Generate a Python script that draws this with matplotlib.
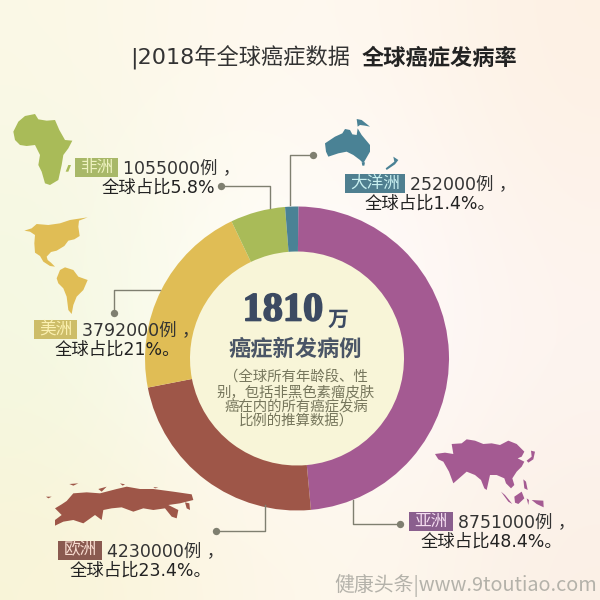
import matplotlib
matplotlib.use("Agg")
import matplotlib.pyplot as plt
import matplotlib.patheffects as pe
import numpy as np
from matplotlib.patches import Circle, Polygon, Rectangle

plt.rcParams['font.family'] = ['Noto Sans CJK SC', 'DejaVu Sans']
LABEL_FONT = ['DejaVu Sans', 'Noto Sans CJK SC']

regions = ["亚洲", "欧洲", "美洲", "非洲", "大洋洲"]
cases = [8751000, 4230000, 3792000, 1055000, 252000]
shares = ["48.4%。", "23.4%。", "21%。", "5.8%", "1.4%。"]
pie_colors = ["#a45a92", "#9e5648", "#e0bd55", "#a9bb58", "#4a8295"]
box_colors = ["#8a5f8e", "#8a5a50", "#cdbd68", "#a8b868", "#4f7f90"]
text_colors = ["#f4dcf0", "#f8dcd0", "#fbf0b0", "#eef2c0", "#c8f0f0"]

# 框的位置 x0, x1, y0, 第二行文字起點 x
boxes = [(409, 453, 512, 421), (58, 102, 541, 70), (34, 77, 320, 55), (75, 118, 158, 102), (345, 405, 174, 365)]
# 引線 (點 -> 圓環)
leaders = [
    [(400, 524), (353, 524), (353, 500)],
    [(216, 531), (265, 531), (265, 505)],
    [(114, 313), (114, 290), (160, 290)],
    [(221, 186), (270, 186), (270, 208)],
    [(313, 155), (290, 155), (290, 205)],
]

# 各洲地圖輪廓 (裝飾用, 放大 3 倍的座標, 第一項是裁切原點)
africa = ((0, 90), [
    [(40, 125), (55, 95), (75, 78), (105, 72), (115, 88), (140, 92), (165, 90), (178, 120), (195, 150), (217, 152),
     (205, 175), (190, 195), (185, 225), (175, 270), (150, 285), (135, 280), (125, 245), (115, 225), (120, 195),
     (105, 165), (80, 168), (60, 165), (45, 150)],
    [(205, 225), (213, 225), (205, 245), (197, 245)]])
america = ((15, 210), [
    [(28, 62), (50, 55), (65, 42), (100, 45), (135, 40), (165, 30), (218, 22), (192, 32), (190, 50), (194, 78),
     (178, 88), (160, 92), (148, 108), (125, 122), (108, 126), (95, 140), (98, 150), (108, 158), (120, 170), (105, 168),
     (85, 155), (75, 138), (60, 128), (58, 100), (60, 75), (45, 65)],
    [(125, 205), (135, 180), (150, 172), (175, 180), (190, 200), (218, 210), (205, 240), (185, 260), (175, 285),
     (170, 312), (160, 300), (155, 260), (145, 235), (130, 220)]])
oceania = ((315, 105), [
    [(30, 115), (60, 95), (82, 85), (90, 72), (105, 75), (112, 88), (125, 90), (128, 70), (140, 90), (165, 120),
     (165, 140), (145, 175), (135, 165), (115, 150), (95, 140), (70, 145), (40, 155), (33, 140)],
    [(140, 172), (150, 172), (148, 182), (142, 182)],
    [(125, 42), (140, 45), (165, 65), (150, 62), (135, 60), (128, 65)],
    [(235, 155), (250, 165), (240, 178), (215, 195), (212, 190), (238, 170)]])
asia = ((425, 430), [
    [(30, 72), (60, 68), (85, 72), (80, 42), (110, 40), (125, 28), (150, 32), (175, 42), (200, 40), (225, 45),
     (250, 32), (275, 42), (298, 65), (290, 80), (278, 85), (298, 95), (290, 110), (275, 125), (262, 145), (268, 165),
     (258, 175), (243, 160), (238, 145), (215, 135), (195, 135), (185, 180), (178, 175), (168, 150), (150, 135),
     (125, 125), (85, 160), (72, 125), (55, 95), (40, 88)],
    [(318, 62), (330, 65), (325, 88), (310, 98), (305, 92), (320, 80)],
    [(228, 185), (240, 195), (262, 222), (250, 215)],
    [(268, 200), (290, 185), (298, 205), (280, 222), (270, 218)],
    [(295, 148), (303, 155), (308, 180), (298, 175)],
    [(305, 205), (312, 210), (310, 225)],
    [(320, 210), (355, 212), (356, 232), (335, 222)]])
europe = ((40, 475), [
    [(80, 78), (100, 55), (140, 52), (180, 55), (230, 42), (260, 35), (300, 42), (340, 42), (400, 50), (455, 58),
     (460, 75), (420, 85), (385, 90), (415, 105), (410, 130), (395, 125), (375, 100), (340, 105), (310, 100),
     (280, 110), (245, 97), (215, 100), (190, 105), (185, 135), (165, 120), (130, 145), (100, 135), (70, 140),
     (45, 152), (45, 135), (65, 120), (45, 100), (65, 88)],
    [(18, 65), (35, 65), (25, 70)],
    [(88, 27), (115, 25), (100, 32)],
    [(175, 42), (200, 35), (185, 50)],
    [(240, 25), (255, 28), (248, 32)],
    [(340, 36), (355, 38), (345, 40)],
    [(435, 82), (448, 85), (450, 105), (440, 100)]])
shapes = [asia, europe, america, africa, oceania]

fig = plt.figure(figsize=(6, 6), dpi=100)


def pixel_axes(zorder):
    a = fig.add_axes([0, 0, 1, 1], zorder=zorder)
    a.set_xlim(0, 600)
    a.set_ylim(600, 0)
    a.axis("off")
    return a


# 背景 (全圖用像素座標)
ax = pixel_axes(0)
bg = [["#fbf8e6", "#fff9ee", "#fff8f0", "#fdf1e4"],
      ["#f5f8e2", "#fffdf6", "#fffbfb", "#fdf3ec"],
      ["#f4f8e0", "#fffef8", "#fffbfb", "#fdf4f0"],
      ["#f9f4d8", "#fdf6e6", "#fef8ee", "#fbf0e6"]]
rgb = np.array([[matplotlib.colors.to_rgb(c) for c in row] for row in bg])
ax.imshow(rgb, extent=(0, 600, 600, 0), interpolation="bicubic", aspect="auto", zorder=0)
ax.set_xlim(0, 600)
ax.set_ylim(600, 0)

# 圓環
cx, cy, r_out, r_in = 297, 358.5, 152, 107
ax.add_patch(Circle((cx, cy), r_in + 2, color="#f8f5d8", zorder=1))
pie_ax = fig.add_axes([(cx - r_out) / 600, 1 - (cy + r_out) / 600, 2 * r_out / 600, 2 * r_out / 600], zorder=1)
pie_ax.pie(cases, colors=pie_colors, startangle=89.5, counterclock=False, radius=1,
           wedgeprops=dict(width=(r_out - r_in) / r_out, linewidth=0))
pie_ax.set_xlim(-1, 1)
pie_ax.set_ylim(-1, 1)
pie_ax.patch.set_alpha(0)

top = pixel_axes(2)

# 標題
top.text(130, 58, "|2018年全球癌症数据", fontsize=16, color="#333333", va="center", ha="left", family=LABEL_FONT)
top.text(362, 58, "全球癌症发病率", fontsize=16, color="#222222", va="center", ha="left", fontweight="bold")

# 地圖
for (origin, parts), color in zip(shapes, pie_colors):
    for part in parts:
        pts = [(origin[0] + p[0] / 3, origin[1] + p[1] / 3) for p in part]
        top.add_patch(Polygon(pts, closed=True, facecolor=color, edgecolor="none", zorder=1))

# 標籤
for i in range(len(regions)):
    x0, x1, y0, row2_x = boxes[i]
    top.add_patch(Rectangle((x0, y0), x1 - x0, 19, facecolor=box_colors[i], edgecolor="none", zorder=3))
    top.text((x0 + x1) / 2, y0 + 9, regions[i], fontsize=12, color=text_colors[i], ha="center", va="center", zorder=4)
    top.text(x1 + 5, y0 + 10.5, f"{cases[i]}例 ，", fontsize=12.5, color="#333333", ha="left", va="center", zorder=4,
             family=LABEL_FONT)
    top.text(row2_x, y0 + 30, "全球占比" + shares[i], fontsize=12.5, color="#222222", ha="left", va="center", zorder=4,
             family=LABEL_FONT)

    xs = [p[0] for p in leaders[i]]
    ys = [p[1] for p in leaders[i]]
    top.plot(xs, ys, color="#7f7f70", linewidth=1, zorder=3)
    top.scatter(xs[0], ys[0], s=28, color="#7f7f70", zorder=3, linewidths=0)

# 中間文字
num = top.text(283, 311, "1810", fontsize=29, fontweight="bold", color="#3c4a62", ha="center", va="center", zorder=4,
               family=['Liberation Serif', 'DejaVu Serif'])
num.set_path_effects([pe.withStroke(linewidth=1.2, foreground="#3c4a62")])
top.text(338, 319, "万", fontsize=15, fontweight="bold", color="#3c4a62", ha="center", va="center", zorder=4)
top.text(295.5, 349, "癌症新发病例", fontsize=16, fontweight="bold", color="#4a5566", ha="center", va="center", zorder=4)
notes = ["（全球所有年龄段、性", "别，包括非黑色素瘤皮肤", "癌在内的所有癌症发病", "比例的推算数据）"]
note_y = [378, 393, 407, 421]
for line, y in zip(notes, note_y):
    top.text(296, y, line, fontsize=10.4, color="#76765c", ha="center", va="center", zorder=4)

# 水印
top.text(597, 585, "健康头条|www.9toutiao.com", fontsize=14.3, color="#b4b2aa", ha="right", va="center", zorder=4)

fig.savefig("out.png", dpi=100)
